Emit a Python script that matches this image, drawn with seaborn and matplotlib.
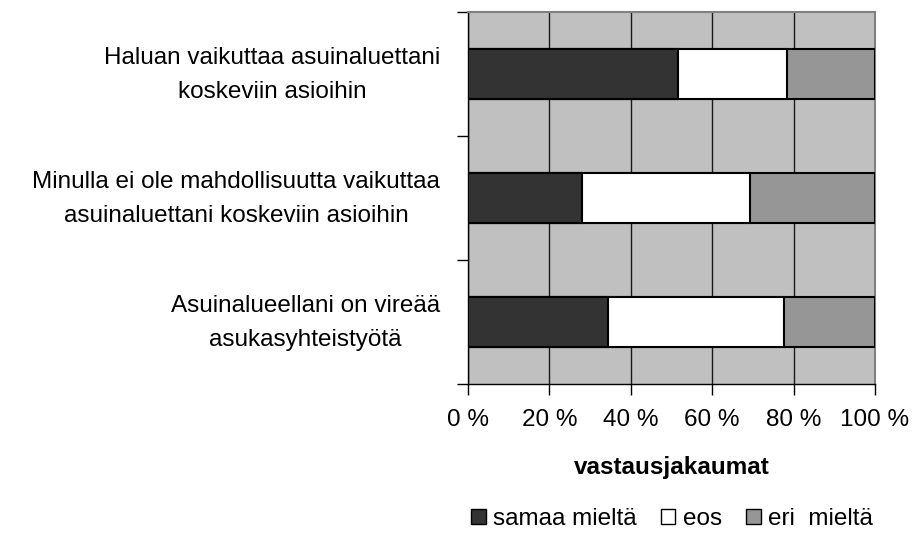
import seaborn as sns
import matplotlib.pyplot as plt
import matplotlib.transforms as mtransforms
import pandas as pd
from matplotlib.patches import Patch
from matplotlib.ticker import FixedLocator

# data (percentages), top to bottom
questions = ['Haluan vaikuttaa asuinaluettani\nkoskeviin asioihin',
             'Minulla ei ole mahdollisuutta vaikuttaa\nasuinaluettani koskeviin asioihin',
             'Asuinalueellani on vireää\nasukasyhteistyötä']
samaa = [51.7, 28.0, 34.5]
eos = [26.6, 41.3, 43.2]
eri = [21.7, 30.7, 22.3]
legend_labels = ['samaa mieltä', 'eos', 'eri  mieltä']
colors = ['#333333', '#ffffff', '#969696']

df = pd.DataFrame({'kysymys': questions, 'samaa': samaa, 'eos': eos, 'eri': eri})
df['c1'] = df['samaa']
df['c2'] = df['samaa'] + df['eos']
df['c3'] = df['c2'] + df['eri']

sns.set_style('white')
plt.rcParams['font.family'] = ['Liberation Sans', 'DejaVu Sans']
plt.rcParams['text.color'] = 'black'
plt.rcParams['xtick.color'] = 'black'
plt.rcParams['ytick.color'] = 'black'
plt.rcParams['axes.labelcolor'] = 'black'

fs = 17.5

fig = plt.figure(figsize=(9.14, 5.45), dpi=100)
ax = fig.add_axes([468 / 914, 1 - 384 / 545, 407 / 914, 372 / 545])
ax.set_facecolor('#c0c0c0')

for col, c in zip(['c3', 'c2', 'c1'], colors[::-1]):
    sns.barplot(data=df, x=col, y='kysymys', orient='h', color=c,
                width=0.4, edgecolor='black', linewidth=1.5, ax=ax, zorder=3)

ax.set_xlim(0, 100)
ax.set_ylim(2.5, -0.5)
ax.set_xticks([0, 20, 40, 60, 80, 100])
ax.set_xticklabels(['0 %', '20 %', '40 %', '60 %', '80 %', '100 %'], fontsize=fs)
ax.tick_params(axis='x', direction='out', length=8, width=1, color='black', pad=10, bottom=True)
ax.grid(axis='x', color='#1a1a1a', linewidth=1, zorder=1)
ax.set_axisbelow(True)

ax.tick_params(axis='y', which='major', length=0, pad=20, labelsize=fs)
ax.yaxis.set_minor_locator(FixedLocator([-0.5, 0.5, 1.5, 2.5]))
ax.tick_params(axis='y', which='minor', direction='out', length=8, width=1, color='black', left=True)

ax.set_xlabel('vastausjakaumat', fontsize=fs, fontweight='bold', labelpad=18)
ax.set_ylabel('')

for s in ['left', 'bottom']:
    ax.spines[s].set_color('black')
    ax.spines[s].set_linewidth(1)
for s in ['top', 'right']:
    ax.spines[s].set_color('#808080')
    ax.spines[s].set_linewidth(1.5)

# nudge the category labels up a little, like the original
shift = mtransforms.ScaledTranslation(0, 0.07, fig.dpi_scale_trans)
for lbl in ax.get_yticklabels():
    lbl.set_multialignment('center')
    lbl.set_linespacing(1.65)
    lbl.set_transform(lbl.get_transform() + shift)

handles = [Patch(facecolor=c, edgecolor='black', linewidth=1) for c in colors]
fig.legend(handles, legend_labels, loc='center', bbox_to_anchor=(672 / 914, 1 - 519 / 545),
           ncol=3, frameon=False, fontsize=fs, handlelength=0.6, handleheight=0.6,
           handletextpad=0.3, columnspacing=1.0)

fig.savefig('out.png', dpi=100)
